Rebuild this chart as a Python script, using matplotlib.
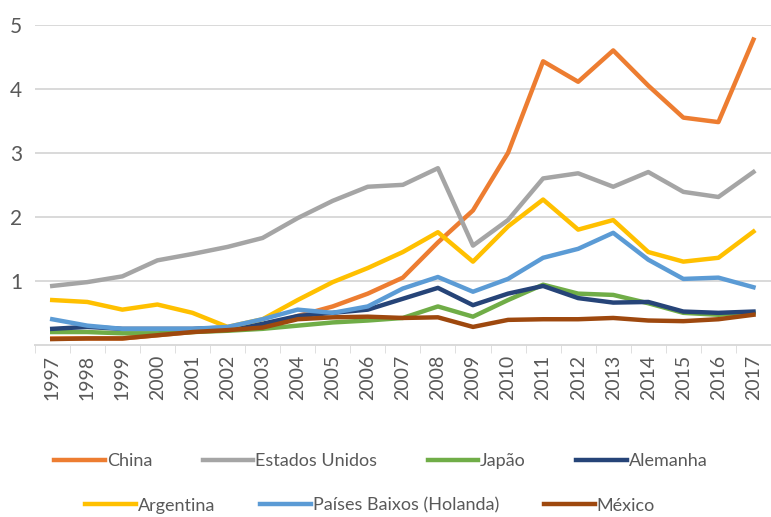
import matplotlib.pyplot as plt
from matplotlib.lines import Line2D

# data
years = list(range(1997, 2018))
china = [0.10, 0.10, 0.10, 0.15, 0.20, 0.25, 0.30, 0.45, 0.60, 0.80, 1.05, 1.60, 2.10, 3.00, 4.43, 4.11, 4.60, 4.05, 3.55, 3.48, 4.77]
eua = [0.92, 0.98, 1.07, 1.32, 1.42, 1.53, 1.67, 1.98, 2.25, 2.47, 2.50, 2.76, 1.55, 1.95, 2.60, 2.68, 2.47, 2.70, 2.39, 2.31, 2.70]
japao = [0.20, 0.20, 0.18, 0.18, 0.20, 0.22, 0.25, 0.30, 0.35, 0.38, 0.42, 0.60, 0.44, 0.70, 0.94, 0.80, 0.78, 0.65, 0.50, 0.47, 0.50]
alemanha = [0.25, 0.28, 0.25, 0.25, 0.25, 0.27, 0.33, 0.45, 0.50, 0.55, 0.72, 0.89, 0.62, 0.80, 0.92, 0.73, 0.66, 0.67, 0.52, 0.50, 0.52]
argentina = [0.70, 0.67, 0.55, 0.63, 0.50, 0.28, 0.40, 0.70, 0.98, 1.20, 1.45, 1.76, 1.30, 1.85, 2.27, 1.80, 1.95, 1.45, 1.30, 1.36, 1.77]
holanda = [0.40, 0.30, 0.25, 0.25, 0.25, 0.28, 0.40, 0.55, 0.50, 0.60, 0.88, 1.06, 0.83, 1.03, 1.36, 1.50, 1.75, 1.33, 1.03, 1.05, 0.90]
mexico = [0.09, 0.10, 0.10, 0.15, 0.20, 0.23, 0.27, 0.40, 0.43, 0.44, 0.42, 0.43, 0.28, 0.39, 0.40, 0.40, 0.42, 0.38, 0.37, 0.40, 0.47]

names = ['China', 'Estados Unidos', 'Japão', 'Alemanha', 'Argentina', 'Países Baixos (Holanda)', 'México']
series = [china, eua, japao, alemanha, argentina, holanda, mexico]
colors = ['#ED7D31', '#A5A5A5', '#70AD47', '#264478', '#FFC000', '#5B9BD5', '#9E480E']

plt.rcParams['font.family'] = ['Lato', 'DejaVu Sans']
txt = '#595959'

fig = plt.figure(figsize=(7.71, 5.17), dpi=100)
ax = fig.add_axes([0.045, 0.333, 0.955, 0.619])

for vals, c, n in zip(series, colors, names):
    ax.plot(years, vals, color=c, lw=3.2, label=n, solid_joinstyle='round')

ax.set_xlim(1996.5, 2017.5)
ax.set_ylim(0, 5)
ax.set_yticks([1, 2, 3, 4, 5])
ax.set_xticks(years)
ax.set_xticklabels([str(y) for y in years], rotation=90)
ax.set_xticks([y + 0.5 for y in range(1996, 2018)], minor=True)
ax.tick_params(axis='x', which='major', length=0, labelsize=14, colors=txt, pad=7)
ax.tick_params(axis='x', which='minor', length=6, color='#D9D9D9')
ax.tick_params(axis='y', length=0, labelsize=15, colors=txt, pad=9)
ax.grid(axis='y', color='#D9D9D9', lw=1.4)
ax.set_axisbelow(True)
for s in ['top', 'right', 'left']:
    ax.spines[s].set_visible(False)
ax.spines['bottom'].set_color('#D9D9D9')
ax.spines['bottom'].set_linewidth(1.4)

def handles(idx):
    return [Line2D([], [], color=colors[i], lw=3.2) for i in idx]

row1 = [0, 1, 2, 3]
row2 = [4, 5, 6]
leg1 = fig.legend(handles(row1), [names[i] for i in row1], loc='center', bbox_to_anchor=(0.494, 0.108),
                  ncol=4, frameon=False, fontsize=13, handlelength=2.8, handletextpad=0.1,
                  columnspacing=2.8, labelcolor=txt)
leg2 = fig.legend(handles(row2), [names[i] for i in row2], loc='center', bbox_to_anchor=(0.48, 0.022),
                  ncol=3, frameon=False, fontsize=13, handlelength=2.8, handletextpad=0.1,
                  columnspacing=2.5, labelcolor=txt)

fig.savefig('out.png', dpi=100)
